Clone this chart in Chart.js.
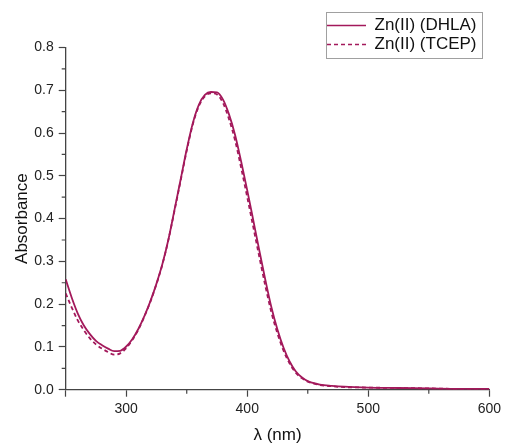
<!DOCTYPE html>
<html>
<head>
<meta charset="utf-8">
<script src="https://cdn.jsdelivr.net/npm/chart.js@4"></script>
<style>
  html, body { margin: 0; padding: 0; background: #fff; }
  #wrap { width: 505px; height: 446px; }
</style>
</head>
<body>
<div id="wrap"><canvas id="absChart" width="505" height="446"></canvas></div>
<script>
// wavelength (nm)
const wavelengths = [250, 255, 260, 265, 270, 275, 280, 285, 290, 295,
  300, 305, 310, 315, 320, 325, 330, 335, 340, 345,
  350, 355, 360, 365, 370, 375, 380, 385, 390, 395,
  400, 405, 410, 415, 420, 425, 430, 435, 440, 445,
  450, 460, 470, 480, 500, 525, 550, 575, 600];

// Zn(II) (DHLA) absorbance
const dhla = [0.258, 0.215, 0.178, 0.150, 0.130, 0.114, 0.104, 0.096, 0.090, 0.091,
  0.101, 0.118, 0.142, 0.172, 0.207, 0.248, 0.295, 0.353, 0.422, 0.492,
  0.562, 0.623, 0.666, 0.689, 0.696, 0.695, 0.678, 0.643, 0.595, 0.533,
  0.466, 0.396, 0.325, 0.256, 0.192, 0.140, 0.098, 0.066, 0.043, 0.029,
  0.020, 0.012, 0.009, 0.007, 0.005, 0.004, 0.003, 0.002, 0.002];

// Zn(II) (TCEP) absorbance
const tcep = [0.225, 0.192, 0.162, 0.139, 0.120, 0.106, 0.096, 0.088, 0.082, 0.085,
  0.097, 0.116, 0.140, 0.171, 0.206, 0.247, 0.294, 0.352, 0.420, 0.489,
  0.559, 0.620, 0.663, 0.686, 0.693, 0.690, 0.670, 0.632, 0.582, 0.518,
  0.450, 0.380, 0.310, 0.242, 0.180, 0.131, 0.091, 0.061, 0.040, 0.027,
  0.019, 0.011, 0.008, 0.006, 0.005, 0.004, 0.003, 0.002, 0.002];

const xTicks = [250, 300, 400, 500, 600];
const xMinor = [350, 450, 550];
const yTicks = [0, 0.1, 0.2, 0.3, 0.4, 0.5, 0.6, 0.7, 0.8];
const yMinor = [0.05, 0.15, 0.25, 0.35, 0.45, 0.55, 0.65, 0.75];

const lineColor = '#a3195b';
const axisColor = '#444';
const fontFamily = '"Liberation Sans", Arial, sans-serif';

const toXY = arr => arr.map((v, i) => ({ x: wavelengths[i], y: v }));

// minor ticks + legend frame + legend placement
const extras = {
  id: 'extras',
  afterLayout(chart) {
    const lg = chart.legend;
    if (!lg) return;
    lg.left = 325; lg.top = 15; lg.right = 483; lg.bottom = 120;
    lg.width = lg.right - lg.left; lg.height = lg.bottom - lg.top;
  },
  afterDraw(chart) {
    const ctx = chart.ctx;
    const xs = chart.scales.x, ys = chart.scales.y;
    ctx.save();
    ctx.strokeStyle = axisColor;
    ctx.lineWidth = 1.2;
    ctx.beginPath();
    xMinor.forEach(v => {
      const px = xs.getPixelForValue(v);
      ctx.moveTo(px, xs.top);
      ctx.lineTo(px, xs.top + 4);
    });
    yMinor.forEach(v => {
      const py = ys.getPixelForValue(v);
      ctx.moveTo(ys.right, py);
      ctx.lineTo(ys.right - 4, py);
    });
    ctx.stroke();
    // legend frame
    ctx.strokeStyle = '#a0a0a0';
    ctx.lineWidth = 1;
    ctx.strokeRect(326.5, 12.5, 156, 46);
    ctx.restore();
  }
};

new Chart(document.getElementById('absChart'), {
  type: 'line',
  data: {
    datasets: [
      {
        label: 'Zn(II) (DHLA)',
        data: toXY(dhla),
        borderColor: lineColor,
        borderWidth: 1.8,
        pointRadius: 0,
        cubicInterpolationMode: 'monotone'
      },
      {
        label: 'Zn(II) (TCEP)',
        data: toXY(tcep),
        borderColor: lineColor,
        borderWidth: 1.8,
        borderDash: [4, 3],
        pointRadius: 0,
        cubicInterpolationMode: 'monotone'
      }
    ]
  },
  options: {
    responsive: false,
    animation: false,
    layout: { padding: { left: 0, right: 14.3, top: 47.5, bottom: 0 } },
    plugins: {
      tooltip: { enabled: false },
      legend: {
        position: 'chartArea',
        align: 'start',
        labels: {
          usePointStyle: true,
          pointStyle: 'line',
          pointStyleWidth: 39,
          padding: 2,
          color: '#111',
          font: { family: fontFamily, size: 17 },
          generateLabels: chart =>
            Chart.defaults.plugins.legend.labels.generateLabels(chart).map((item, i) => ({
              ...item,
              lineWidth: 1.6,
              lineDash: chart.data.datasets[i].borderDash || []
            }))
        }
      }
    },
    scales: {
      x: {
        type: 'linear',
        min: 250,
        max: 600,
        afterFit: s => { s.height = 56.3; },
        afterBuildTicks: s => { s.ticks = xTicks.map(v => ({ value: v })); },
        border: { display: true, color: axisColor, width: 1.3 },
        grid: { drawOnChartArea: false, drawTicks: true, tickLength: 7, tickColor: axisColor, tickWidth: 1.2 },
        ticks: {
          padding: 4,
          color: '#222',
          font: { family: fontFamily, size: 14 },
          maxRotation: 0,
          callback: v => (v === 250 ? '' : String(v))
        },
        title: {
          display: true,
          text: 'λ (nm)',
          color: '#111',
          font: { family: fontFamily, size: 17 },
          padding: { top: 0, bottom: 0 }
        }
      },
      y: {
        min: 0,
        max: 0.8,
        afterFit: s => { s.width = 65.7; },
        afterBuildTicks: s => { s.ticks = yTicks.map(v => ({ value: v })); },
        border: { display: true, color: axisColor, width: 1.3 },
        grid: { drawOnChartArea: false, drawTicks: true, tickLength: 7, tickColor: axisColor, tickWidth: 1.2 },
        ticks: {
          padding: 5,
          color: '#222',
          font: { family: fontFamily, size: 14 },
          callback: v => v.toFixed(1)
        },
        title: {
          display: true,
          text: 'Absorbance',
          color: '#111',
          font: { family: fontFamily, size: 17 },
          padding: { top: 12, bottom: 0 }
        }
      }
    }
  },
  plugins: [extras]
});
</script>
</body>
</html>
